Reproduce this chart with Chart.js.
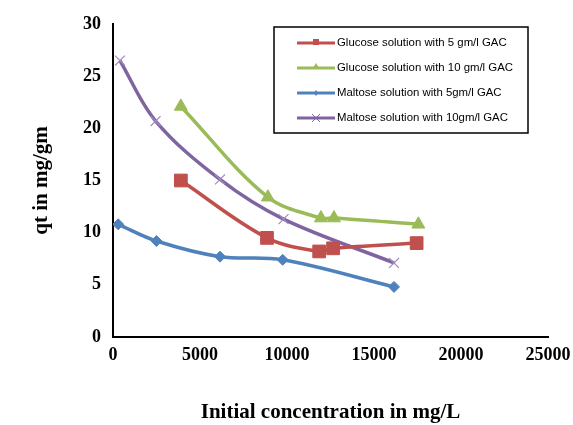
<!DOCTYPE html>
<html lang="en">
<head>
    <meta charset="UTF-8">
    <title>qt vs initial concentration</title>
    <style>
        body { margin: 0; background: #fff; }
        canvas { display: block; }
    </style>
</head>
<body>
    <canvas id="qt-chart" width="573" height="425"></canvas>

    <script src="https://cdn.jsdelivr.net/npm/chart.js"></script>
    <script>
        // Series data
        const seriesNames = [
            "Glucose solution with 5 gm/l GAC",
            "Glucose solution with 10 gm/l GAC",
            "Maltose solution with 5gm/l GAC",
            "Maltose solution with 10gm/l GAC"
        ];
        const glucose5X = [3900, 8850, 11850, 12650, 17450];
        const glucose5Y = [15.0, 9.5, 8.2, 8.5, 9.0];
        const glucose10X = [3900, 8900, 11950, 12700, 17550];
        const glucose10Y = [22.1, 13.4, 11.4, 11.4, 10.8];
        const maltose5X = [300, 2500, 6150, 9750, 16150];
        const maltose5Y = [10.8, 9.2, 7.7, 7.4, 4.8];
        const maltose10X = [400, 2450, 6150, 9800, 16150];
        const maltose10Y = [26.5, 20.7, 15.1, 11.3, 7.1];

        const xTicks = [0, 5000, 10000, 15000, 20000, 25000];
        const yTicks = [0, 5, 10, 15, 20, 25, 30];

        function toPoints(xs, ys) {
            return xs.map((x, i) => ({ x: x, y: ys[i] }));
        }

        const serif = "'Liberation Serif', 'Times New Roman', serif";

        // Legend box drawn inside the plot, like the original
        const boxLegend = {
            id: 'boxLegend',
            afterDraw(chart) {
                const ctx = chart.ctx;
                ctx.save();
                ctx.fillStyle = '#fff';
                ctx.fillRect(274, 27, 254, 106);
                ctx.strokeStyle = '#000';
                ctx.lineWidth = 1.5;
                ctx.strokeRect(274, 27, 254, 106);
                const rows = [43, 68, 93, 118];
                chart.data.datasets.forEach((ds, i) => {
                    const y = rows[i];
                    ctx.strokeStyle = ds.borderColor;
                    ctx.lineWidth = 3;
                    ctx.beginPath();
                    ctx.moveTo(297, y);
                    ctx.lineTo(335, y);
                    ctx.stroke();
                    // small marker in the middle
                    ctx.fillStyle = ds.borderColor;
                    ctx.lineWidth = 1;
                    const mx = 316;
                    if (ds.pointStyle === 'rect') {
                        ctx.fillRect(mx - 3, y - 4, 6, 6);
                    } else if (ds.pointStyle === 'triangle') {
                        ctx.beginPath();
                        ctx.moveTo(mx, y - 5);
                        ctx.lineTo(mx + 3, y);
                        ctx.lineTo(mx - 3, y);
                        ctx.closePath();
                        ctx.fill();
                    } else if (ds.pointStyle === 'rectRot') {
                        ctx.beginPath();
                        ctx.moveTo(mx, y - 3);
                        ctx.lineTo(mx + 2, y);
                        ctx.lineTo(mx, y + 3);
                        ctx.lineTo(mx - 2, y);
                        ctx.closePath();
                        ctx.fill();
                    } else {
                        ctx.beginPath();
                        ctx.moveTo(mx - 4, y - 4);
                        ctx.lineTo(mx + 4, y + 4);
                        ctx.moveTo(mx + 4, y - 4);
                        ctx.lineTo(mx - 4, y + 4);
                        ctx.stroke();
                    }
                    ctx.fillStyle = '#000';
                    ctx.font = "11.4px 'Liberation Sans', Arial, sans-serif";
                    ctx.textBaseline = 'middle';
                    ctx.textAlign = 'left';
                    ctx.fillText(ds.label, 337, y);
                });
                ctx.restore();
            }
        };

        const ctx = document.getElementById('qt-chart').getContext('2d');
        new Chart(ctx, {
            type: 'line',
            data: {
                datasets: [
                    {
                        label: seriesNames[0],
                        data: toPoints(glucose5X, glucose5Y),
                        borderColor: '#C0504D',
                        backgroundColor: '#C0504D',
                        pointStyle: 'rect',
                        pointRadius: 9,
                        pointBorderWidth: 1
                    },
                    {
                        label: seriesNames[1],
                        data: toPoints(glucose10X, glucose10Y),
                        borderColor: '#9BBB59',
                        backgroundColor: '#9BBB59',
                        pointStyle: 'triangle',
                        pointRadius: 7.5,
                        pointBorderWidth: 1
                    },
                    {
                        label: seriesNames[2],
                        data: toPoints(maltose5X, maltose5Y),
                        borderColor: '#4F81BD',
                        backgroundColor: '#4F81BD',
                        pointStyle: 'rectRot',
                        pointRadius: 5.5,
                        pointBorderWidth: 1
                    },
                    {
                        label: seriesNames[3],
                        data: toPoints(maltose10X, maltose10Y),
                        borderColor: '#8064A2',
                        backgroundColor: '#8064A2',
                        pointStyle: 'crossRot',
                        pointRadius: 7,
                        pointBorderColor: '#a08cc0',
                        pointBorderWidth: 1.2
                    }
                ]
            },
            options: {
                responsive: false,
                animation: false,
                devicePixelRatio: 1,
                elements: {
                    line: { borderWidth: 3.5, tension: 0.35, fill: false }
                },
                layout: { padding: { top: 24, right: 25, left: 0, bottom: 0 } },
                plugins: {
                    legend: { display: false },
                    tooltip: { enabled: false }
                },
                scales: {
                    x: {
                        type: 'linear',
                        min: 0,
                        max: 25000,
                        afterBuildTicks: scale => { scale.ticks = xTicks.map(v => ({ value: v })); },
                        afterFit: scale => {
                            scale.height = 88;
                            scale.paddingLeft = 0;
                            scale.paddingRight = 0;
                        },
                        grid: { display: false, drawTicks: false },
                        border: { display: true, color: '#000', width: 2 },
                        ticks: {
                            padding: 8,
                            color: '#000',
                            maxRotation: 0,
                            callback: v => String(v),
                            font: { family: serif, size: 18, weight: 'bold' }
                        },
                        title: {
                            display: true,
                            text: 'Initial concentration in mg/L',
                            color: '#000',
                            padding: { top: 0, bottom: 0 },
                            font: { family: serif, size: 21, weight: 'bold' }
                        }
                    },
                    y: {
                        min: 0,
                        max: 30,
                        afterBuildTicks: scale => { scale.ticks = yTicks.map(v => ({ value: v })); },
                        afterFit: scale => {
                            scale.width = 113;
                            scale.paddingTop = 0;
                            scale.paddingBottom = 0;
                        },
                        grid: { display: false, drawTicks: false },
                        border: { display: true, color: '#000', width: 2 },
                        ticks: {
                            padding: 12,
                            color: '#000',
                            callback: v => String(v),
                            font: { family: serif, size: 18, weight: 'bold' }
                        },
                        title: {
                            display: true,
                            text: 'qt in mg/gm',
                            color: '#000',
                            padding: { top: 29, bottom: 0 },
                            font: { family: serif, size: 21, weight: 'bold' }
                        }
                    }
                }
            },
            plugins: [boxLegend]
        });
    </script>
</body>
</html>
